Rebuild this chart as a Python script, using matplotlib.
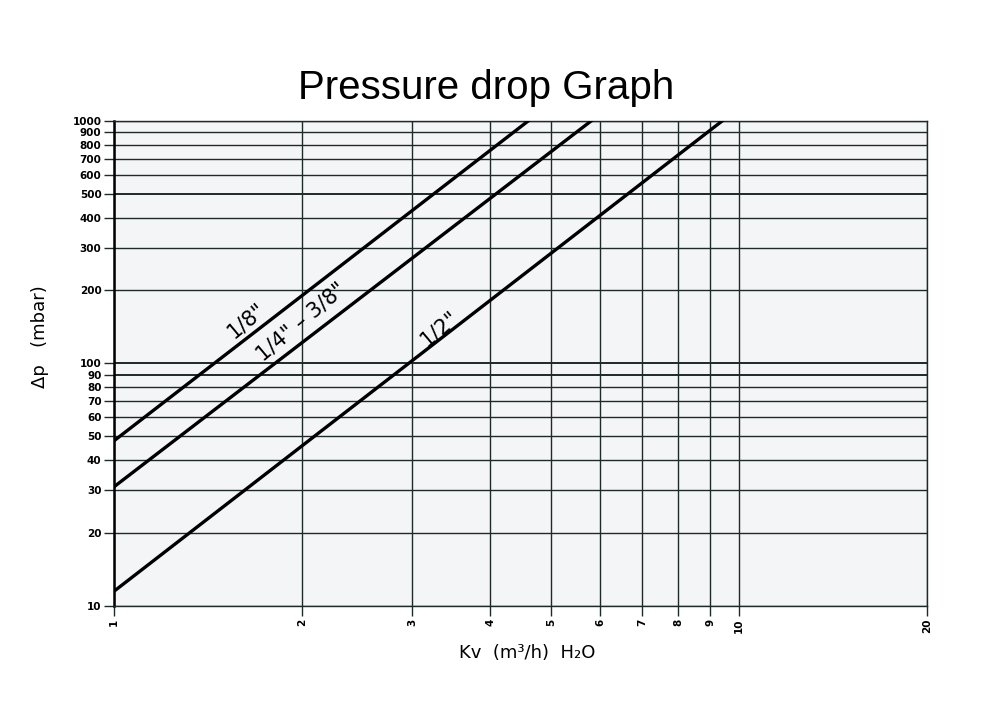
import matplotlib.pyplot as plt
import numpy as np

# Kv (m3/h) vs pressure drop (mbar)
kv_18 = [1.0, 4.6]
dp_18 = [48, 1000]
kv_14_38 = [1.0, 5.8]
dp_14_38 = [31, 1000]
kv_12 = [1.0, 9.4]
dp_12 = [11.5, 1000]

xticks = [1, 2, 3, 4, 5, 6, 7, 8, 9, 10, 20]
yticks = [10, 20, 30, 40, 50, 60, 70, 80, 90, 100,
          200, 300, 400, 500, 600, 700, 800, 900, 1000]

fig = plt.figure(figsize=(10, 7.22), dpi=100)
ax = fig.add_axes([0.114, 0.1607, 0.813, 0.6717])
ax.set_facecolor('#f4f5f7')

ax.set_xscale('log')
ax.set_yscale('log')
ax.set_xlim(1, 20)
ax.set_ylim(10, 1000)

# grid
for x in xticks:
    ax.axvline(x, color='#1e2a2a', lw=1.0, zorder=1)
for y in yticks:
    w = 1.4 if y in (90, 100, 500) else 1.0
    ax.axhline(y, color='#1e2a2a', lw=w, zorder=1)

# curves
ax.plot(kv_18, dp_18, color='black', lw=2.4, zorder=3)
ax.plot(kv_14_38, dp_14_38, color='black', lw=2.4, zorder=3)
ax.plot(kv_12, dp_12, color='black', lw=2.4, zorder=3)

# labels on the lines
ax.text(1.63, 150, '1/8"', rotation=40, fontsize=15, ha='center', va='center')
ax.text(1.99, 148, '1/4" \u2013 3/8"', rotation=40, fontsize=15, ha='center', va='center')
ax.text(3.32, 140, '1/2"', rotation=40, fontsize=15, ha='center', va='center')

ax.xaxis.set_minor_locator(plt.NullLocator())
ax.yaxis.set_minor_locator(plt.NullLocator())
ax.set_xticks(xticks)
ax.set_xticklabels([str(v) for v in xticks], rotation=90, fontsize=7.5,
                   fontweight='bold')
ax.set_yticks(yticks)
ax.set_yticklabels([str(v) for v in yticks], fontsize=7.5, fontweight='bold')
ax.tick_params(axis='both', direction='out', length=7, width=1.0,
               color='#1e2a2a', pad=2)

for s in ['top', 'right', 'bottom']:
    ax.spines[s].set_color('#1e2a2a')
    ax.spines[s].set_linewidth(1.0)
ax.spines['left'].set_color('black')
ax.spines['left'].set_linewidth(1.8)

ax.set_xlabel('Kv  (m\u00b3/h)  H\u2082O', fontsize=13)
ax.xaxis.set_label_coords(0.508, -0.078)
ax.set_ylabel('\u0394p   (mbar)', fontsize=13)
ax.yaxis.set_label_coords(-0.08, 0.555)

fig.text(0.486, 0.878, 'Pressure drop Graph', family='Liberation Sans',
         fontsize=29, ha='center', va='center')

fig.savefig('out.png', dpi=100, facecolor='white')
